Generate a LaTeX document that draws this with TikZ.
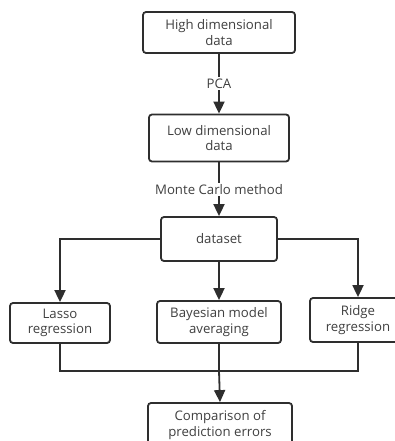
\documentclass[tikz,border=0pt]{standalone}
\usepackage{fontspec}
\setmainfont{Open Sans}
\usetikzlibrary{arrows.meta,positioning}
\definecolor{linegray}{HTML}{2E2E2E}
\definecolor{textgray}{HTML}{404040}

\begin{document}
\begin{tikzpicture}[x=1pt,y=-1pt,
semithick,
box/.style ={rectangle, rounded corners=3pt, draw=linegray, line width=1.8pt,
fill=white, text=textgray, align=center, inner sep=2pt,
font=\fontsize{13.2}{15.5}\selectfont},
link/.style ={draw=linegray, line width=1.8pt},
arr/.style ={link, -{Triangle[length=12pt,width=11pt]}},
lbl/.style ={fill=white, text=textgray, inner sep=1.5pt,
font=\fontsize{13.2}{15.5}\selectfont}]

\useasboundingbox (0,0) rectangle (395,441);

\node[box, minimum width=152pt, minimum height=41pt] (high) at (219,32.5) {High dimensional\\data};
\node[box, minimum width=140pt, minimum height=47pt] (low) at (219,138) {Low dimensional\\data};
\node[box, minimum width=116pt, minimum height=44pt] (data) at (219,239) {dataset};
\node[box, minimum width=100pt, minimum height=40pt] (lasso) at (60,323) {Lasso\\regression};
\node[box, minimum width=124pt, minimum height=42pt] (bma) at (219,322) {Bayesian model\\averaging};
\node[box, minimum width=96pt, minimum height=44pt] (ridge) at (358,320) {Ridge\\regression};
\node[box, minimum width=144pt, minimum height=44pt] (comp) at (220,425) {Comparison of\\prediction errors};
\coordinate (join) at (219,371);

\draw[arr] (high) -- node[lbl]{PCA} (low);
\draw[arr] (low) -- node[lbl]{Monte Carlo method} (data);
\draw[arr] (data.west) -| (lasso.north);
\draw[arr] (data) -- (bma);
\draw[arr] (data.east) -| (ridge.north);

\draw[link] (lasso.south) |- (join) -| (ridge.south);
\draw[link] (bma.south) -- (join);
\draw[arr] (join) -- (comp.north);
\end{tikzpicture}
\end{document}
